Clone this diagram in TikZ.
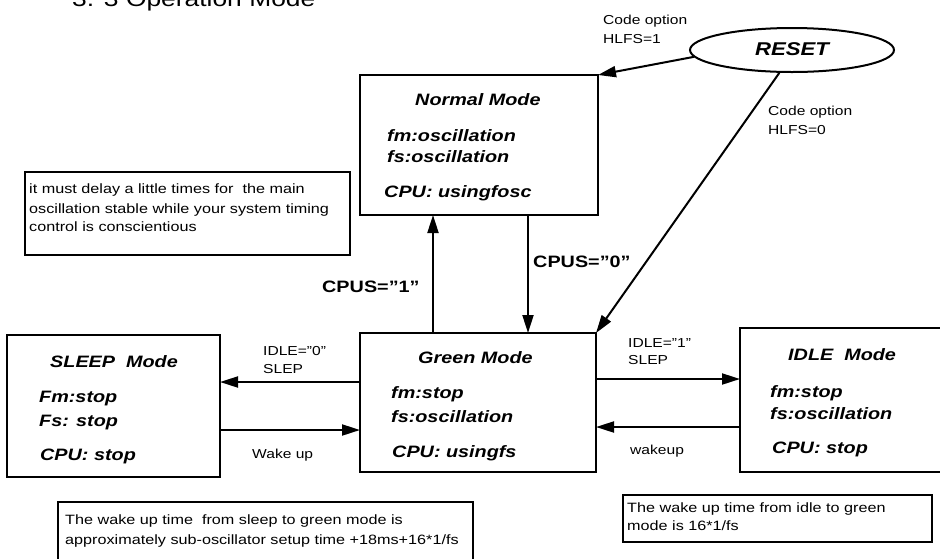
\documentclass[tikz,border=0pt]{standalone}
\usepackage{fontspec}
\setmainfont{Liberation Sans}[FakeStretch=1.2]
\usetikzlibrary{arrows.meta,shapes.geometric}
\tikzset{
  modebox/.style={draw, line width=2pt, anchor=north west, inner sep=0pt, outer sep=0pt},
  notebox/.style={draw, line width=1.3pt, anchor=north west, inner sep=0pt, outer sep=0pt},
  modetxt/.style={anchor=base west, inner sep=0pt, font=\fontsize{16.5}{19}\selectfont\bfseries\itshape},
  lbl/.style={anchor=base west, inner sep=0pt, font=\fontsize{13}{15}\selectfont},
  cpus/.style={anchor=base west, inner sep=0pt, font=\fontsize{16.5}{19}\selectfont\bfseries},
  notetxt/.style={anchor=base west, inner sep=0pt, font=\fontsize{13.5}{16}\selectfont},
  arr/.style={line width=2pt, -{Triangle[length=18pt,width=11pt]}},
}
\begin{document}
\begin{tikzpicture}[x=1pt,y=-1pt]
\useasboundingbox (0,0) rectangle (940,558);
\fill[white] (0,0) rectangle (940,558);

% title (cut off at top)
\node[anchor=base west, inner sep=0pt, font=\fontsize{22}{26}\selectfont] (title) at (72,6) {3. 3 Operation Mode};

% mode boxes
\node[modebox, minimum width=238pt, minimum height=140pt] (normal) at (360,75) {};
\node[modebox, minimum width=236pt, minimum height=139pt] (green) at (360,333) {};
\node[modebox, minimum width=213pt, minimum height=142pt] (sleep) at (7,335) {};
\node[modebox, minimum width=210pt, minimum height=144pt] (idle) at (740,328) {};

% reset ellipse
\node[draw, ellipse, line width=2pt, minimum width=204pt, minimum height=44pt, inner sep=0pt] (reset) at (792,50) {};
\node[anchor=base, inner sep=0pt, font=\fontsize{18.5}{22}\selectfont\bfseries\itshape] (resett) at (792,55) {RESET};

% normal mode text
\node[modetxt] (n1) at (415,105) {Normal Mode};
\node[modetxt] (n2) at (387,141) {fm:oscillation};
\node[modetxt] (n3) at (387,162) {fs:oscillation};
\node[modetxt] (n4) at (384,197) {CPU: usingfosc};

% green mode text
\node[modetxt] (g1) at (418,363) {Green Mode};
\node[modetxt] (g2) at (391,398) {fm:stop};
\node[modetxt] (g3) at (391,422) {fs:oscillation};
\node[modetxt] (g4) at (392,457) {CPU: usingfs};

% sleep mode text
\node[modetxt] (s1) at (50,367) {SLEEP\ \ Mode};
\node[modetxt] (s2) at (39,402) {Fm:stop};
\node[modetxt] (s3) at (39,426) {Fs: stop};
\node[modetxt] (s4) at (40,460) {CPU: stop};

% idle mode text
\node[modetxt] (i1) at (788,360) {IDLE\ \ Mode};
\node[modetxt] (i2) at (770,397) {fm:stop};
\node[modetxt] (i3) at (770,419) {fs:oscillation};
\node[modetxt] (i4) at (772,453) {CPU: stop};

% connectors
\draw[arr] (reset.184) -- (normal.north east);
\draw[arr] (reset.241) -- (green.north east);
\draw[arr] (green.north -| 433,0) -- (normal.south -| 433,0);
\draw[arr] (normal.south -| 528,0) -- (green.north -| 528,0);
\draw[arr] (green.west |- 0,382) -- (sleep.east |- 0,382);
\draw[arr] (sleep.east |- 0,430) -- (green.west |- 0,430);
\draw[arr] (green.east |- 0,379) -- (idle.west |- 0,379);
\draw[arr] (idle.west |- 0,427) -- (green.east |- 0,427);

% connector labels
\node[lbl] (co1a) at (603,24) {Code option};
\node[lbl] (co1b) at (603,43) {HLFS=1};
\node[lbl] (co0a) at (768,115) {Code option};
\node[lbl] (co0b) at (768,134) {HLFS=0};
\node[cpus] (c1) at (322,292) {CPUS="1"};
\node[cpus] (c0) at (533,267) {CPUS="0"};
\node[lbl] (l0a) at (263,355) {IDLE="0"};
\node[lbl] (l0b) at (263,373) {SLEP};
\node[lbl] (wk1) at (252,458) {Wake up};
\node[lbl] (l1a) at (628,347) {IDLE="1"};
\node[lbl] (l1b) at (628,364) {SLEP};
\node[lbl] (wk2) at (630,454) {wakeup};

% notes
\node[notebox, minimum width=325pt, minimum height=83pt] (note1) at (25,172) {};
\node[notetxt] (note1a) at (29,193) {it must delay a little times for\ \ the main};
\node[notetxt] (note1b) at (29,213) {oscillation stable while your system timing};
\node[notetxt] (note1c) at (29,231) {control is conscientious};

\node[notebox, minimum width=415pt, minimum height=70pt] (note2) at (58,502) {};
\node[notetxt] (note2a) at (65,524) {The wake up time\ \ from sleep to green mode is};
\node[notetxt] (note2b) at (65,544) {approximately sub-oscillator setup time +18ms+16*1/fs};

\node[notebox, minimum width=309pt, minimum height=47pt] (note3) at (623,495) {};
\node[notetxt] (note3a) at (627,512) {The wake up time from idle to green};
\node[notetxt] (note3b) at (627,530) {mode is 16*1/fs};
\end{tikzpicture}
\end{document}
